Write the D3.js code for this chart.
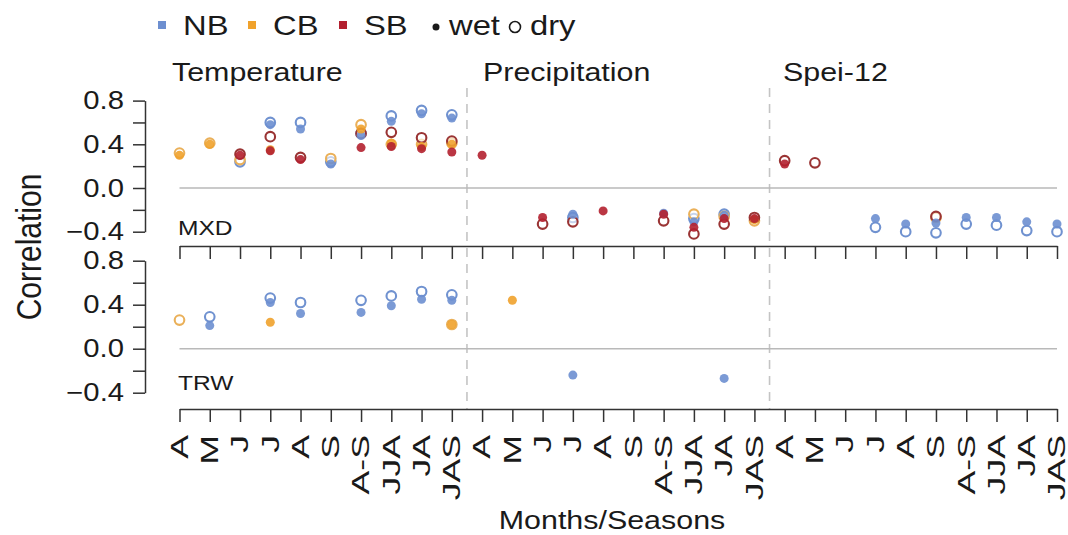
<!DOCTYPE html>
<html>
<head>
	<meta charset="utf-8">
	<title>Correlation MXD / TRW</title>
	<style type="text/css">
		body { margin: 0; background: white; }
		svg text { font-family: "Liberation Sans", Arial, sans-serif; fill: #1a1a1a; }
	</style>
</head>
<body>
<svg id="chart" width="1068" height="535"></svg>

<script src="https://d3js.org/d3.v7.min.js"></script>
<script type="text/javascript">
	// months / seasons, repeated for the three climate variables
	var seasons = ["A", "M", "J", "J", "A", "S", "A-S", "JJA", "JA", "JAS"];
	var groups = ["Temperature", "Precipitation", "Spei-12"];
	var regions = ["NB", "CB", "SB"];
	var yTicks = [-0.4, -0.2, 0, 0.2, 0.4, 0.6, 0.8];
	var yLabels = [-0.4, 0, 0.4, 0.8];

	var n = null;
	// MXD, 30 positions each (10 temp, 10 prec, 10 spei)
	var mxdNBwet = [n, n, n, 0.58, 0.54, 0.22, 0.48, 0.61, 0.68, 0.64,  n, n, n, -0.24, n, n, -0.23, -0.31, -0.25, n,  n, n, n, -0.28, -0.33, -0.32, -0.27, -0.27, -0.31, -0.33];
	var mxdNBdry = [n, n, 0.24, 0.60, 0.60, 0.24, 0.50, 0.66, 0.71, 0.67,  n, n, n, -0.27, n, n, n, -0.28, -0.24, n,  n, n, n, -0.36, -0.40, -0.41, -0.33, -0.34, -0.39, -0.40];
	var mxdCBwet = [0.30, 0.40, n, 0.35, n, n, 0.54, 0.41, 0.38, 0.40,  n, n, n, n, n, n, n, n, n, -0.29,  n, n, n, n, n, n, n, n, n, n];
	var mxdCBdry = [0.32, 0.41, 0.26, n, n, 0.27, 0.58, 0.40, 0.40, 0.41,  n, n, n, n, n, n, n, -0.24, -0.26, -0.30,  n, n, n, n, n, -0.27, n, n, n, n];
	var mxdSBwet = [n, n, 0.30, 0.34, 0.26, n, 0.37, 0.38, 0.36, 0.33,  0.30, n, -0.27, n, -0.21, n, -0.24, -0.36, -0.28, -0.28,  0.22, n, n, n, n, n, n, n, n, n];
	var mxdSBdry = [n, n, 0.31, 0.47, 0.28, n, 0.50, 0.51, 0.46, 0.43,  n, n, -0.33, -0.31, n, n, -0.30, -0.42, -0.33, -0.27,  0.25, 0.23, n, n, n, -0.26, n, n, n, n];

	// TRW
	var trwNBwet = [n, 0.21, n, 0.42, 0.32, n, 0.33, 0.39, 0.45, 0.44,  n, n, n, -0.24, n, n, n, n, -0.27, n,  n, n, n, n, n, n, n, n, n, n];
	var trwNBdry = [n, 0.29, n, 0.46, 0.42, n, 0.44, 0.48, 0.52, 0.49,  n, n, n, n, n, n, n, n, n, n,  n, n, n, n, n, n, n, n, n, n];
	var trwCBwet = [n, n, n, 0.24, n, n, n, n, n, 0.22,  n, 0.44, n, n, n, n, n, n, n, n,  n, n, n, n, n, n, n, n, n, n];
	var trwCBdry = [0.26, n, n, n, n, n, n, n, n, 0.22,  n, n, n, n, n, n, n, n, n, n,  n, n, n, n, n, n, n, n, n, n];
	var trwSBwet = [n, n, n, n, n, n, n, n, n, n,  n, n, n, n, n, n, n, n, n, n,  n, n, n, n, n, n, n, n, n, n];
	var trwSBdry = [n, n, n, n, n, n, n, n, n, n,  n, n, n, n, n, n, n, n, n, n,  n, n, n, n, n, n, n, n, n, n];

	var fillCol = {NB: "#6d8fd0", CB: "#f0a22c", SB: "#b3202f"};
	var ringCol = {NB: "#7092d0", CB: "#eab059", SB: "#9a3434"};

	var sx = 1.17; // source picture is a bit wider than tall
	var svg = d3.select("#chart");

	var labels = [];
	groups.forEach(() => seasons.forEach(s => labels.push(s)));

	var x = d3.scalePoint().domain(d3.range(labels.length)).range([179.5, 1057]);
	var yTop = d3.scaleLinear().domain([-0.4, 0.8]).range([231.7, 100.6]);
	var yBot = d3.scaleLinear().domain([-0.4, 0.8]).range([392.7, 260.7]);

	function txt(px, py, s, size, anchor) {
		return svg.append("text")
			.attr("transform", `translate(${px},${py}) scale(${sx},1)`)
			.attr("text-anchor", anchor || "start")
			.style("font-size", size + "px")
			.text(s);
	}

	// separators between variables
	[9.5, 19.5].forEach(function(p) {
		var xp = (x(Math.floor(p)) + x(Math.ceil(p))) / 2;
		svg.append("line")
			.attr("x1", xp).attr("x2", xp)
			.attr("y1", 88).attr("y2", 409)
			.attr("stroke", "#c4c4c4").attr("stroke-width", 1.6)
			.attr("stroke-dasharray", "9,7");
	});

	function panel(y, axisY, series, name, nameY) {
		var g = svg.append("g");

		g.append("line")
			.attr("x1", x(0)).attr("x2", x(labels.length - 1))
			.attr("y1", y(0)).attr("y2", y(0))
			.attr("stroke", "#b9b9b9").attr("stroke-width", 1.5);

		var ax = g.append("g")
			.attr("transform", "translate(145,0)")
			.call(d3.axisLeft(y).tickValues(yTicks).tickSize(12).tickSizeOuter(0)
				.tickFormat(d => yLabels.some(v => Math.abs(v - d) < 1e-9) ? d3.format(".1f")(d).replace("-", "\u2212") : ""));
		ax.select(".domain").attr("stroke", "#333").attr("stroke-width", 1.5);
		ax.selectAll(".tick line").attr("stroke", "#333").attr("stroke-width", 1.5);
		ax.selectAll(".tick text")
			.attr("x", -21 / sx)
			.attr("transform", `scale(${sx},1)`)
			.style("font-size", "25px")
			.style("font-family", '"Liberation Sans", Arial, sans-serif')
			.attr("fill", "#1a1a1a");

		var bx = g.append("g")
			.attr("transform", `translate(0,${axisY})`)
			.call(d3.axisBottom(x).tickSize(13).tickSizeOuter(0).tickFormat(() => ""));
		bx.select(".domain").attr("stroke", "#333").attr("stroke-width", 1.5);
		bx.selectAll(".tick line").attr("stroke", "#333").attr("stroke-width", 1.5);

		// dry = open circles, drawn first
		regions.forEach(function(r) {
			g.selectAll(null).data(series[r].dry.map((v, i) => [i, v]).filter(d => d[1] !== null))
				.enter().append("circle")
				.attr("cx", d => x(d[0])).attr("cy", d => y(d[1]))
				.attr("r", 4.8)
				.attr("fill", "white").attr("fill-opacity", 0.6)
				.attr("stroke", ringCol[r]).attr("stroke-width", 2.1);
		});
		// wet = filled dots
		regions.forEach(function(r) {
			g.selectAll(null).data(series[r].wet.map((v, i) => [i, v]).filter(d => d[1] !== null))
				.enter().append("circle")
				.attr("cx", d => x(d[0])).attr("cy", d => y(d[1]))
				.attr("r", 4.5)
				.attr("fill", fillCol[r]).attr("fill-opacity", 0.9);
		});

		txt(178, nameY, name, 21);
	}

	panel(yTop, 246, {
		NB: {wet: mxdNBwet, dry: mxdNBdry},
		CB: {wet: mxdCBwet, dry: mxdCBdry},
		SB: {wet: mxdSBwet, dry: mxdSBdry}
	}, "MXD", 235);

	panel(yBot, 409, {
		NB: {wet: trwNBwet, dry: trwNBdry},
		CB: {wet: trwCBwet, dry: trwCBdry},
		SB: {wet: trwSBwet, dry: trwSBdry}
	}, "TRW", 390);

	// x labels, rotated; tall and narrow as in the source
	svg.selectAll(".xlab").data(labels)
		.enter().append("text")
		.attr("class", "xlab")
		.attr("transform", (d, i) => `translate(${x(i)},435) rotate(-90) scale(1.55,1)`)
		.attr("text-anchor", "end")
		.attr("dy", "0.36em")
		.style("font-size", "23px")
		.text(d => d);

	// variable titles
	var titleX = [172, 483, 783];
	groups.forEach((gname, i) => txt(titleX[i], 81, gname, 26));

	txt(612, 529, "Months/Seasons", 26, "middle");

	svg.append("text")
		.attr("transform", `translate(41,247) rotate(-90) scale(1,${sx})`)
		.attr("text-anchor", "middle")
		.style("font-size", "30px")
		.text("Correlation");

	// legend
	var legX = [158, 248, 339];
	regions.forEach(function(r, i) {
		svg.append("rect")
			.attr("x", legX[i]).attr("y", 21).attr("width", 8).attr("height", 8)
			.attr("fill", fillCol[r]);
		txt(legX[i] + 25, 35, r, 28);
	});
	svg.append("circle").attr("cx", 436).attr("cy", 27).attr("r", 3.5).attr("fill", "#1a1a1a");
	txt(449, 35, "wet", 28);
	svg.append("circle").attr("cx", 515).attr("cy", 27).attr("r", 5.5)
		.attr("fill", "none").attr("stroke", "#1a1a1a").attr("stroke-width", 1.6);
	txt(530, 35, "dry", 28);
</script>
</body>
</html>
